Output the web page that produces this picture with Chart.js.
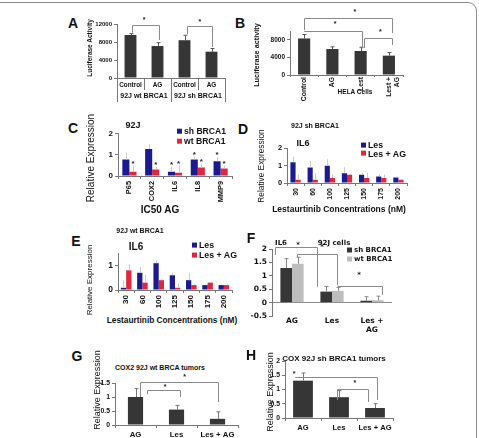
<!DOCTYPE html>
<html lang="en">
<head>
<meta charset="UTF-8" />
<title>BRCA1 / IL6 / COX2 expression panels</title>
<script src="https://cdn.jsdelivr.net/npm/chart.js"></script>
<style>
  body { margin: 0; background: #fff; }
  #fig { position: relative; width: 479px; height: 438px; overflow: hidden; font-family: 'Liberation Sans', Arial, sans-serif; color: #111; }
  .frame { position: absolute; left: -10px; top: 2px; width: 486px; height: 460px; border-top: 1.5px solid #8c8c8c; border-right: 1.5px solid #8c8c8c; border-top-right-radius: 9px; }
  .box { position: absolute; }
  .txt { position: absolute; white-space: nowrap; line-height: 1; transform: translate(-50%, -50%); font-weight: bold; }
  .vtxt { position: absolute; white-space: nowrap; line-height: 1; transform: translate(-50%, -50%) rotate(-90deg); }
  .leg { position: absolute; white-space: nowrap; line-height: 1; transform: translateY(-50%); font-weight: bold; display: flex; align-items: center; }
  .leg i { display: inline-block; width: 5px; height: 5px; margin-right: 2px; }
</style>
</head>
<body>
<div id="fig"><div class="frame"></div></div>
<script>
// ---- data ----
// A: luciferase, 92J cells
const aCats = ['Control', 'AG', 'Control', 'AG'];
const aGroups = ['92J wt BRCA1', '92J sh BRCA1'];
const aLuc = [9550, 7100, 8400, 5850];
const aErr = [300, 750, 1100, 700];
// B: luciferase, HELA
const bCats = ['Control', 'AG', 'Lest', ['Lest +', 'AG']];
const bLuc = [8300, 5900, 5450, 4400];
const bErr = [900, 500, 850, 700];
// C: IC50 AG, 92J
const cGenes = ['P65', 'COX2', 'IL6', 'IL8', 'MMP9'];
const cSh = [0.78, 1.28, 0.2, 0.78, 0.7];
const cWt = [0.2, 0.31, 0.15, 0.4, 0.35];
const cShErr = [0.34, 0.22, 0.23, 0.12, 0.2];
const cWtErr = [0.3, 0.12, 0.35, 0.18, 0.15];
const cShStar = [0, 0, 1, 1, 1];
const cWtStar = [1, 1, 1, 1, 1];
// D / E: IL6 vs lestaurtinib (nM)
const conc = ['30', '60', '100', '125', '150', '175', '200'];
const dLes = [1.2, 0.9, 1.0, 0.57, 0.48, 0.38, 0.32];
const dLesAg = [0.19, 0.19, 0.29, 0.48, 0.29, 0.29, 0.19];
const dLesErr = [0.32, 0.4, 0.37, 0.34, 0.1, 0.1, 0.05];
const dLesAgErr = [0.29, 0.38, 0.2, 0.05, 0.28, 0.2, 0.05];
const eLes = [0.09, 0.7, 1.09, 0.6, 0.4, 0.2, 0.2];
const eLesAg = [0.8, 0.3, 0.4, 0.09, 0.2, 0.3, 0.2];
const eLesErr = [0.3, 0.23, 0.1, 0.1, 0.3, 0.03, 0.03];
const eLesAgErr = [0.26, 0.32, 0.04, 0.18, 0.03, 0.03, 0.03];
// F: IL6 92J cells
const fCats = ['AG', 'Les', ['Les +', 'AG']];
const fSh = [1.29, 0.41, 0.07];
const fWt = [1.45, 0.44, 0.09];
const fShErr = [0.35, 0.19, 0.15];
const fWtErr = [0.24, 0.12, 0.15];
// G / H: COX2 tumors
const ghCats = ['AG', 'Les', 'Les + AG'];
const gCox2 = [1.0, 0.55, 0.22];
const gErr = [0.3, 0.15, 0.25];
const hCox = [1.31, 0.73, 0.35];
const hErr = [0.27, 0.23, 0.15];
// significance brackets: [fromCat, toCat, level, leftEnd, rightEnd, starCat, starLevel]
const aBrackets = [[0.05, 1.05, 11800, 10070, 8440, 0.5, 12900], [2.1, 3.02, 11600, 9800, 6900, 2.57, 12400]];
const bBrackets = [[0, 3.1, 12950, 10200, 9550, 1.8, 14300], [0, 2.05, 10000, 10000, 6100, 1.1, 11600], [2.12, 3.1, 8400, 6100, 6800, 2.7, 9800]];
const fBrackets = [[-0.43, 0.63, 2.08, 1.78, 0.59, 0.15, 2.14], [0.13, 1.13, 1.83, 1.68, 0.66, 0.75, 2.05], [1.13, 2.25, 0.63, 0.6, 0.29, 1.68, 1.04]];
const gBrackets = [[0.1, 2.0, 1.54, 1.0, 0.82, 1.2, 1.7], [0.28, 1.09, 1.25, 1.1, 1.0, 0.72, 1.36]];
const hBrackets = [[-0.22, 2.05, 1.44, 1.44, 0.63, -0.25, 1.54], [0.94, 1.8, 1.02, 0.63, 0.56, 1.44, 1.23]];

const BLUE = '#1c1a8e', RED = '#e3263e', DARK = '#363636', LIGHT = '#bdbdbd';
Chart.defaults.color = '#111';
const fig = document.getElementById('fig');
const F = (size, weight = 'bold', family = 'Liberation Sans') => ({ family, size, weight });
const num = v => String(v);

// error bars, per-bar stars and bracket lines
const marks = {
  id: 'marks',
  afterDatasetsDraw(chart, args, o) {
    const c = chart.ctx, xs = chart.scales.x, ys = chart.scales.y;
    const catX = i => xs.getPixelForValue(0) + i * (xs.getPixelForValue(1) - xs.getPixelForValue(0));
    c.save();
    c.lineWidth = 1;
    (o.err || []).forEach((errs, di) => {
      const vals = chart.data.datasets[di].data;
      c.strokeStyle = o.errColor || '#555';
      chart.getDatasetMeta(di).data.forEach((bar, j) => {
        const x = Math.round(bar.x) + 0.5;
        const top = ys.getPixelForValue(vals[j] + errs[j]);
        c.beginPath();
        c.moveTo(x, ys.getPixelForValue(vals[j]));
        c.lineTo(x, top);
        c.moveTo(x - (o.cap || 0), top);
        c.lineTo(x + (o.cap || 0), top);
        c.stroke();
      });
    });
    c.fillStyle = '#222';
    c.textAlign = 'center';
    c.textBaseline = 'middle';
    c.font = o.starFont || 'bold 8px Liberation Sans';
    (o.stars || []).forEach((flags, di) => {
      const vals = chart.data.datasets[di].data, errs = o.err[di];
      chart.getDatasetMeta(di).data.forEach((bar, j) => {
        if (flags[j]) c.fillText('*', bar.x, ys.getPixelForValue(vals[j] + errs[j]) - 2);
      });
    });
    c.strokeStyle = o.bracketColor || '#8a8a8a';
    (o.brackets || []).forEach(b => {
      const x1 = Math.round(catX(b[0])) + 0.5, x2 = Math.round(catX(b[1])) + 0.5;
      const y = Math.round(ys.getPixelForValue(b[2])) + 0.5;
      c.beginPath();
      c.moveTo(x1, ys.getPixelForValue(b[3]));
      c.lineTo(x1, y);
      c.lineTo(x2, y);
      c.lineTo(x2, ys.getPixelForValue(b[4]));
      c.stroke();
      c.fillText('*', catX(b[5]), ys.getPixelForValue(b[6]));
    });
    c.restore();
  }
};

// r = [plotLeft, plotTop, plotRight, plotBottom, yAxisWidth, xAxisHeight, padTop, padRight]
function bars(r, data, options) {
  const [x0, y0, x1, y1, yw, xh, pt, pr] = r;
  const box = document.createElement('div');
  box.className = 'box';
  Object.assign(box.style, {
    left: (x0 - yw) + 'px', top: (y0 - pt) + 'px',
    width: (x1 - x0 + yw + pr) + 'px', height: (y1 - y0 + pt + xh) + 'px'
  });
  const cv = document.createElement('canvas');
  box.appendChild(cv);
  fig.appendChild(box);
  options.layout = { padding: { top: pt, right: pr, left: 0, bottom: 0 } };
  options.responsive = true;
  options.maintainAspectRatio = false;
  options.animation = false;
  options.events = [];
  options.plugins = Object.assign({ legend: { display: false }, tooltip: { enabled: false } }, options.plugins);
  options.scales.y.afterFit = s => { s.width = yw; };
  if (!options.scales.x.afterFit) options.scales.x.afterFit = s => { s.height = xh; };
  return new Chart(cv, { type: 'bar', data, options, plugins: [marks] });
}

function yAxis(min, max, step, size) {
  return {
    min, max,
    ticks: { stepSize: step, callback: num, font: F(size), padding: 2 },
    grid: { drawOnChartArea: false, tickLength: 3, color: '#777' },
    border: { color: '#777' }
  };
}
function xAxis(size, rotate, pad) {
  return {
    ticks: { font: F(size), autoSkip: false, minRotation: rotate ? 90 : 0, maxRotation: rotate ? 90 : 0, padding: pad == null ? 2 : pad },
    grid: { offset: true, drawOnChartArea: false, tickLength: 3, color: '#777' },
    border: { color: '#777' }
  };
}

function txt(s, x, y, size, family, weight, cls) {
  const d = document.createElement('div');
  d.className = cls || 'txt';
  d.textContent = s;
  Object.assign(d.style, { left: x + 'px', top: y + 'px', fontSize: size + 'px' });
  if (family) d.style.fontFamily = family;
  if (weight) d.style.fontWeight = weight;
  fig.appendChild(d);
}
const vtxt = (s, x, y, size, weight) => txt(s, x, y, size, null, weight || 'normal', 'vtxt');
function legend(x, y, gap, names, colors, size, family) {
  names.forEach((n, i) => {
    const d = document.createElement('div');
    d.className = 'leg';
    d.innerHTML = '<i style="background:' + colors[i] + '"></i>' + n;
    Object.assign(d.style, { left: x + 'px', top: (y + i * gap) + 'px', fontSize: size + 'px' });
    if (family) d.style.fontFamily = family;
    fig.appendChild(d);
  });
}

// ---- A ----
const axA = xAxis(6.4, false, -9);
axA.grid.tickLength = 12;
axA.afterFit = s => { s.height = 12; };
bars([117, 24, 225, 78, 26, 25, 14, 6],
  { labels: aCats, datasets: [{ data: aLuc, backgroundColor: DARK, barPercentage: 0.44, categoryPercentage: 1 }] },
  {
    scales: {
      x: axA,
      x2: {
        type: 'category', labels: aGroups, position: 'bottom', offset: true,
        ticks: { font: F(7), padding: -10 },
        grid: { offset: true, drawOnChartArea: false, tickLength: 12, color: '#777' },
        border: { display: false },
        afterFit: s => { s.height = 13; }
      },
      y: yAxis(0, 12000, 2000, 6)
    },
    plugins: { marks: { err: [aErr], cap: 2, brackets: aBrackets, starFont: 'bold 7px Liberation Sans' } }
  });

// ---- B ----
const xB = xAxis(6.8, true, 0);
xB.grid.tickLength = 2;
bars([290, 31, 403, 75, 28, 27, 22, 6],
  { labels: bCats, datasets: [{ data: bLuc, backgroundColor: DARK, barPercentage: 0.43, categoryPercentage: 1 }] },
  {
    scales: { x: xB, y: yAxis(0, 10000, 2000, 6.5) },
    plugins: { marks: { err: [bErr], cap: 2, brackets: bBrackets, starFont: 'bold 7px Liberation Sans' } }
  });

// ---- C ----
bars([118, 133, 232, 176, 20, 33, 6, 2],
  {
    labels: cGenes, datasets: [
      { data: cSh, backgroundColor: BLUE, barPercentage: 1, categoryPercentage: 0.62 },
      { data: cWt, backgroundColor: RED, barPercentage: 1, categoryPercentage: 0.62 }]
  },
  {
    scales: { x: xAxis(7.4, true), y: yAxis(0, 2, 0.5, 8) },
    plugins: { marks: { err: [cShErr, cWtErr], errColor: '#c9c9d2', stars: [cShStar, cWtStar], starFont: 'bold 8px Liberation Sans' } }
  });

// ---- D ----
bars([287, 148, 407, 183, 20, 20, 6, 4],
  {
    labels: conc, datasets: [
      { data: dLes, backgroundColor: BLUE, barPercentage: 1, categoryPercentage: 0.6 },
      { data: dLesAg, backgroundColor: RED, barPercentage: 1, categoryPercentage: 0.6 }]
  },
  {
    scales: { x: xAxis(7, true), y: yAxis(0, 2, 0.5, 7.4) },
    plugins: { marks: { err: [dLesErr, dLesAgErr], errColor: '#c9c9d2' } }
  });

// ---- E ----
bars([118, 252, 232, 290, 20, 22, 6, 4],
  {
    labels: conc, datasets: [
      { data: eLes, backgroundColor: BLUE, barPercentage: 1, categoryPercentage: 0.65 },
      { data: eLesAg, backgroundColor: RED, barPercentage: 1, categoryPercentage: 0.65 }]
  },
  {
    scales: { x: xAxis(8, true), y: yAxis(0, 1.5, 0.5, 8.5) },
    plugins: { marks: { err: [eLesErr, eLesAgErr], errColor: '#c9c9d2' } }
  });

// ---- F ----
const yF = yAxis(-0.5, 2, 0.5, 7.5);
yF.ticks.font = F(7.5, 'bold', 'DejaVu Sans');
yF.grid = { drawOnChartArea: true, tickLength: 3, tickColor: '#777', color: c => (c.tick && c.tick.value === 0 ? '#8a8a8a' : 'transparent') };
const xF = xAxis(7.5, false, -7);
xF.ticks.font = F(7.5, 'bold', 'DejaVu Sans');
xF.grid = { display: false };
xF.border = { display: false };
bars([272, 249, 392, 316, 32, 20, 8, 4],
  {
    labels: fCats, datasets: [
      { data: fSh, backgroundColor: DARK, barPercentage: 1, categoryPercentage: 0.58 },
      { data: fWt, backgroundColor: LIGHT, barPercentage: 1, categoryPercentage: 0.58 }]
  },
  {
    scales: { x: xF, y: yF },
    plugins: { marks: { err: [fShErr, fWtErr], errColor: '#888', cap: 2, brackets: fBrackets, starFont: 'bold 7px DejaVu Sans' } }
  });

// ---- G ----
bars([115, 383, 238, 425, 16, 13, 10, 4],
  { labels: ghCats, datasets: [{ data: gCox2, backgroundColor: DARK, barPercentage: 0.37, categoryPercentage: 1 }] },
  {
    scales: { x: xAxis(7.8, false), y: yAxis(0, 1.5, 0.5, 6.8) },
    plugins: { marks: { err: [gErr], errColor: '#777', cap: 2, brackets: gBrackets, starFont: 'bold 7px Liberation Sans' } }
  });

// ---- H ----
bars([285, 361, 393, 418, 14, 16, 8, 4],
  { labels: ghCats, datasets: [{ data: hCox, backgroundColor: DARK, barPercentage: 0.55, categoryPercentage: 1 }] },
  {
    scales: { x: xAxis(7.6, false), y: yAxis(0, 2, 0.5, 6.8) },
    plugins: { marks: { err: [hErr], errColor: '#777', cap: 2, brackets: hBrackets, starFont: 'bold 7px Liberation Sans' } }
  });

// ---- panel letters, axis titles, legends ----
[['A', 73, 23], ['B', 240, 23], ['C', 73, 128], ['D', 243, 129],
 ['E', 76, 241], ['F', 251, 238], ['G', 77, 356], ['H', 251, 355]].forEach(p => txt(p[0], p[1], p[2], 14));
vtxt('Luciferase Activity', 90, 48, 6.5, 'bold');
vtxt('Luciferase activity', 257, 55, 7.3, 'bold');
vtxt('Relative Expression', 91, 158, 10);
vtxt('Relative Expression', 261, 166, 8.3);
vtxt('Relative Expression', 90, 280, 8);
vtxt('Relative Expression', 97, 390, 9);
vtxt('Relative Expression', 270, 392, 9);
txt('HELA Cells', 355, 92, 6.5);
txt('92J', 133, 125, 9);
txt('IC50  AG', 160, 210, 10);
legend(177, 131, 10, ['sh BRCA1', 'wt BRCA1'], [BLUE, RED], 8.6);
txt('92J sh BRCA1', 315, 125, 7);
txt('IL6', 303, 143, 9);
legend(361, 145, 8.5, ['Les', 'Les + AG'], [BLUE, RED], 8.8);
txt('Lestaurtinib Concentrations (nM)', 339, 209, 8.5);
txt('92J wt BRCA1', 140, 230, 7);
txt('IL6', 136, 247, 10);
legend(192, 245, 10, ['Les', 'Les + AG'], [BLUE, RED], 8.8);
txt('Lestaurtinib Concentrations (nM)', 172, 320, 8.3);
txt('IL6', 281, 243, 7, 'DejaVu Sans');
txt('92J cells', 334, 243, 7, 'DejaVu Sans');
legend(347, 250, 8.5, ['sh BRCA1', 'wt BRCA1'], [DARK, LIGHT], 7, 'DejaVu Sans');
txt('COX2  92J wt BRCA tumors', 160, 367, 7);
txt('COX 92J sh BRCA1 tumors', 334, 359, 8);
</script>
</body>
</html>
